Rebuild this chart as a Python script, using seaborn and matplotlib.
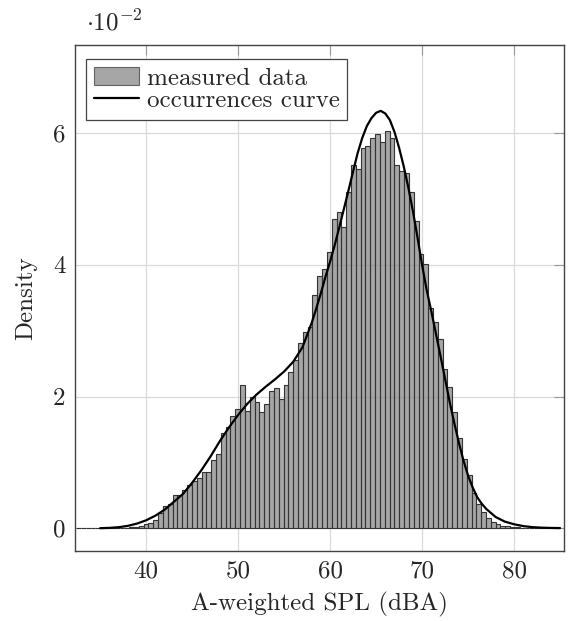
import numpy as np
import pandas as pd
import seaborn as sns
import matplotlib.pyplot as plt
from matplotlib.patches import Patch
from matplotlib.lines import Line2D

# histogram of the measured levels: 100 bins (dBA)
bin_lo, bin_hi = 32.39, 84.82
n_bins = 100
x_lo, x_hi = 32.27, 85.44

# bar heights (density, in units of 1e-2)
bar_density = [
    0, 0, 0, 0, 0, 0, 0, 0.002, 0.003, 0.005,
    0.008, 0.012, 0.018, 0.03, 0.06, 0.08, 0.13, 0.23, 0.33, 0.37,
    0.51, 0.51, 0.58, 0.65, 0.71, 0.76, 0.86, 0.85, 1.03, 1.12,
    1.44, 1.53, 1.71, 1.81, 2.18, 1.78, 2.00, 1.92, 1.77, 1.89,
    2.09, 2.13, 1.97, 2.18, 2.37, 2.55, 2.81, 2.98, 3.05, 3.54,
    3.83, 3.93, 4.20, 4.70, 4.80, 4.58, 5.11, 5.52, 5.45, 5.78,
    5.81, 5.92, 5.99, 5.87, 6.04, 5.92, 5.52, 5.42, 5.40, 5.11,
    4.67, 4.17, 4.01, 3.34, 3.13, 2.87, 2.42, 2.14, 1.76, 1.37,
    1.05, 0.81, 0.53, 0.37, 0.24, 0.15, 0.09, 0.06, 0.04, 0.03,
    0.02, 0.012, 0.008, 0.005, 0.003, 0, 0, 0, 0, 0,
]

# occurrences curve (x in dBA, y in units of 1e-2)
curve_spl = [35, 36, 37, 38, 39, 40, 41, 42, 43, 44, 45, 46, 47, 48, 49,
             50, 51, 52, 53, 54, 55, 56, 57, 58, 58.5, 59, 59.5, 60, 60.5,
             61, 61.5, 62, 62.5, 63, 63.5, 64, 64.5, 65, 65.5, 66, 66.5,
             67, 67.5, 68, 68.5, 69, 69.5, 70, 70.5, 71, 71.5, 72, 72.5,
             73, 73.5, 74, 74.5, 75, 75.5, 76, 76.5, 77, 78, 79, 80, 81,
             82, 83, 84, 85]
curve_density = [0.0, 0.005, 0.015, 0.035, 0.07, 0.12, 0.19, 0.28, 0.40,
                 0.52, 0.69, 0.88, 1.09, 1.32, 1.53, 1.72, 1.89, 2.03, 2.15,
                 2.26, 2.38, 2.53, 2.75, 3.12, 3.34, 3.57, 3.82, 4.05, 4.30,
                 4.57, 4.85, 5.13, 5.42, 5.70, 5.93, 6.11, 6.23, 6.31, 6.34,
                 6.30, 6.20, 6.02, 5.78, 5.50, 5.18, 4.82, 4.42, 4.00, 3.62,
                 3.30, 2.96, 2.62, 2.27, 1.92, 1.60, 1.30, 1.03, 0.80, 0.62,
                 0.47, 0.37, 0.29, 0.17, 0.10, 0.06, 0.032, 0.016, 0.008,
                 0.004, 0.002]

x_ticks = [40, 50, 60, 70, 80]
y_ticks = [0, 2, 4, 6]

sns.set_style('white')
plt.rcParams['font.family'] = ['cmr10', 'DejaVu Serif']
plt.rcParams['mathtext.fontset'] = 'cm'
plt.rcParams['axes.formatter.use_mathtext'] = True
fs = 18

bin_w = (bin_hi - bin_lo) / n_bins
hist_df = pd.DataFrame({
    'spl': bin_lo + bin_w * (np.arange(n_bins) + 0.5),
    'density': np.array(bar_density) * 1e-2,
})
curve_df = pd.DataFrame({
    'spl': curve_spl,
    'density': np.array(curve_density) * 1e-2,
})

fig = plt.figure(figsize=(5.73, 6.21), dpi=100)
ax = fig.add_axes([0.131, 0.1134, 0.8534, 0.8141])

ax.grid(True, color='#d9d9d9', lw=0.9)
ax.set_axisbelow(True)

sns.histplot(data=hist_df, x='spl', weights='density', bins=n_bins,
             binrange=(bin_lo, bin_hi), stat='count',
             color='gray', alpha=0.7, edgecolor='#333333', linewidth=0.8, ax=ax)
sns.lineplot(data=curve_df, x='spl', y='density', color='black',
             lw=1.6, ax=ax, sort=False)

ax.set_xlim(x_lo, x_hi)
ax.set_ylim(-0.34e-2, 7.34e-2)
ax.set_xticks(x_ticks)
ax.set_xticklabels([str(t) for t in x_ticks])
ax.set_yticks([t * 1e-2 for t in y_ticks])
ax.set_yticklabels([str(t) for t in y_ticks])
ax.tick_params(direction='in', length=7.5, width=0.8, color='#999999',
               labelsize=fs, top=True, right=True, pad=7)
for s in ax.spines.values():
    s.set_color('#444444')
    s.set_linewidth(1.0)

ax.set_xlabel('A-weighted SPL (dBA)', fontsize=fs, labelpad=7)
ax.set_ylabel('Density', fontsize=fs, labelpad=11)
fig.text(0.150, 1 - 30 / 621, r'$\cdot 10^{-2}$', fontsize=fs, va='baseline')

handles = [Patch(facecolor='gray', alpha=0.7, edgecolor='#333333', lw=0.8),
           Line2D([], [], color='black', lw=1.6)]
leg = ax.legend(handles, ['measured data', 'occurrences curve'], fontsize=fs,
                loc='upper left', bbox_to_anchor=(0.0225, 0.972), borderaxespad=0,
                fancybox=False, framealpha=1, edgecolor='#444444',
                handlelength=1.8, handletextpad=0.3, labelspacing=0.0,
                borderpad=0.32)
leg.get_frame().set_linewidth(0.9)

fig.savefig('out.png', dpi=100)
